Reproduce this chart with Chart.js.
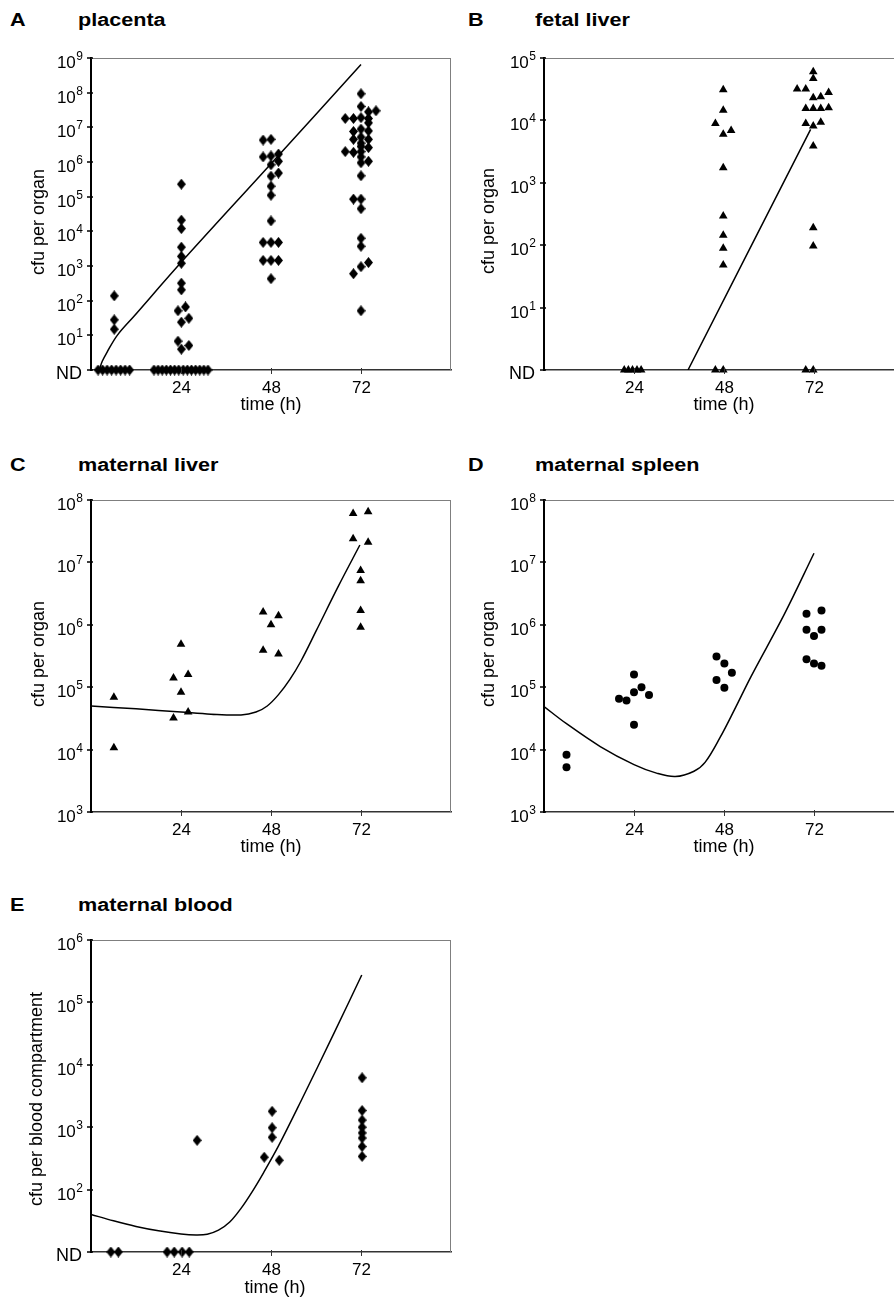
<!DOCTYPE html>
<html>
<head>
<meta charset="utf-8">
<script src="https://cdn.jsdelivr.net/npm/chart.js@4.4.0/dist/chart.umd.min.js"></script>
<style>
  html, body { margin: 0; padding: 0; background: #fff; overflow: hidden; }
  body { width: 894px; height: 1299px; position: relative; font-family: "Liberation Sans", Arial, sans-serif; color: #000; }
  canvas { position: absolute; }
  .lbl { position: absolute; white-space: nowrap; line-height: 1; }
  .panel { font-weight: bold; font-size: 18px; transform-origin: 0 50%; transform: scaleX(1.2); }
  .ytitle { font-size: 18px; transform: translate(-50%, -50%) rotate(-90deg); }
  .xtitle { font-size: 18px; transform: translate(-50%, -50%); }
</style>
</head>
<body>
<div class="lbl panel" style="left:10px;top:11px">A</div>
<div class="lbl panel" style="left:78px;top:11px">placenta</div>
<div class="lbl panel" style="left:468px;top:11px">B</div>
<div class="lbl panel" style="left:535px;top:11px">fetal liver</div>
<div class="lbl panel" style="left:10px;top:456px">C</div>
<div class="lbl panel" style="left:78px;top:456px">maternal liver</div>
<div class="lbl panel" style="left:468px;top:456px">D</div>
<div class="lbl panel" style="left:535px;top:456px">maternal spleen</div>
<div class="lbl panel" style="left:10px;top:896px">E</div>
<div class="lbl panel" style="left:78px;top:896px">maternal blood</div>

<canvas id="chartA" width="461" height="382" style="left:0px;top:48px"></canvas>
<canvas id="chartB" width="461" height="382" style="left:453px;top:48px"></canvas>
<canvas id="chartC" width="461" height="382" style="left:0px;top:490px"></canvas>
<canvas id="chartD" width="461" height="382" style="left:453px;top:490px"></canvas>
<canvas id="chartE" width="461" height="382" style="left:0px;top:930px"></canvas>

<div class="lbl ytitle" style="left:38px;top:222px">cfu per organ</div>
<div class="lbl ytitle" style="left:488px;top:221px">cfu per organ</div>
<div class="lbl ytitle" style="left:38px;top:654px">cfu per organ</div>
<div class="lbl ytitle" style="left:488px;top:654px">cfu per organ</div>
<div class="lbl ytitle" style="left:36px;top:1099px">cfu per blood compartment</div>
<div class="lbl xtitle" style="left:271px;top:404px">time (h)</div>
<div class="lbl xtitle" style="left:724px;top:404px">time (h)</div>
<div class="lbl xtitle" style="left:271px;top:846px">time (h)</div>
<div class="lbl xtitle" style="left:724px;top:846px">time (h)</div>
<div class="lbl xtitle" style="left:275px;top:1287px">time (h)</div>

<script>
// ---- data (hours, cfu) ----
const timeTicks = [24, 48, 72];

// A placenta
const placentaTicks = [1, 1e1, 1e2, 1e3, 1e4, 1e5, 1e6, 1e7, 1e8, 1e9];
const placentaNDhours = [1.9, 3.1, 4.3, 5.5, 6.7, 7.9, 9.1, 10.3,
  16.8, 17.9, 19.0, 20.1, 21.2, 22.3, 23.4, 24.6, 25.7, 26.8, 27.9, 29.0, 30.1, 31.2];
const placentaPts = [
  [6.2, 138], [6.2, 28], [6.2, 15],
  [24.1, 2.3e5], [24.1, 2.1e4], [24.1, 1.2e4], [24.1, 3.5e3], [24.1, 1.9e3], [24.1, 1.2e3],
  [24.1, 320], [24.1, 205], [23.2, 51], [25.2, 66], [24.1, 24], [26.1, 31], [23.2, 6.8], [24.1, 4], [26.1, 5.1],
  [45.9, 4.3e6], [48, 4.5e6], [45.9, 1.4e6], [48, 1.5e6], [50, 1.7e6], [48, 8.3e5], [50, 1.05e6],
  [48, 3.9e5], [50, 4.8e5], [48, 2.0e5], [48, 1.1e5], [48, 2.0e4], [45.9, 4.8e3], [48, 4.8e3], [50, 4.8e3],
  [45.9, 1.45e3], [48, 1.45e3], [50, 1.45e3], [48, 430],
  [72, 9.3e7], [72, 4.0e7], [74, 2.8e7], [76, 3.0e7], [67.8, 1.8e7], [70, 1.8e7], [72, 1.9e7], [74, 1.8e7],
  [74, 1.35e7], [70, 7.6e6], [72, 8.9e6], [74, 7.9e6], [70, 4.5e6], [72, 5.2e6], [74, 4.5e6], [72, 3.5e6],
  [74, 2.6e6], [72, 2.8e6], [67.8, 2.0e6], [70, 1.9e6], [72, 2.0e6], [72, 1.4e6], [74, 1.05e6], [72, 9.5e5],
  [72, 4.0e5], [70, 8.5e4], [72, 8.5e4], [72, 4.5e4], [72, 6.3e3], [72, 3.7e3], [74, 1.26e3], [72, 955],
  [70, 600], [72, 51]
];
const placentaFit = [[2.2, 1], [3, 1.78], [4.3, 3.3], [7, 10], [11.4, 35], [24, 1.26e3], [48, 8.9e5], [72, 6.5e8]];

// B fetal liver
const fetalTicks = [1, 1e1, 1e2, 1e3, 1e4, 1e5];
const fetalNDhours = [21.4, 22.5, 23.6, 24.8, 25.9, 45.7, 47.8, 69.8, 71.8];
const fetalPts = [
  [47.8, 3.1e4], [47.8, 1.45e4], [45.7, 8.9e3], [49.9, 6.9e3], [47.8, 6.0e3], [47.8, 1.75e3],
  [47.8, 295], [47.8, 145], [47.8, 89], [47.8, 48],
  [71.8, 6.0e4], [71.8, 4.7e4], [67.5, 3.2e4], [69.8, 3.2e4], [75.9, 2.8e4], [71.8, 2.3e4], [73.8, 2.4e4],
  [69.8, 1.55e4], [71.8, 1.55e4], [73.8, 1.55e4], [75.9, 1.6e4], [69.8, 8.9e3], [71.8, 8.1e3], [73.8, 9.3e3],
  [71.8, 3.9e3], [71.8, 190], [71.8, 97]
];
const fetalFit = [[38.4, 1], [71.1, 7.2e3]];

// C maternal liver
const liverTicks = [1e3, 1e4, 1e5, 1e6, 1e7, 1e8];
const liverPts = [
  [6.1, 6.9e4], [6.1, 1.07e4],
  [24, 4.9e5], [22, 1.4e5], [25.9, 1.6e5], [24, 8.3e4], [22, 3.2e4], [25.9, 4.0e4],
  [45.9, 1.6e6], [50, 1.4e6], [48, 1.0e6], [45.9, 3.9e5], [50, 3.4e5],
  [69.9, 6.1e7], [73.9, 6.5e7], [69.9, 2.4e7], [73.9, 2.1e7], [71.9, 7.4e6], [71.9, 5.1e6], [71.9, 1.7e6], [71.9, 9.1e5]
];
const liverFit = [[0, 5.0e4], [12, 4.5e4], [24, 4.0e4], [32, 3.7e4], [40, 3.6e4], [44, 4.0e4], [47, 5.0e4],
  [50, 7.6e4], [53, 1.32e5], [56, 2.63e5], [60, 7.9e5], [66, 4.2e6], [71.7, 1.9e7]];

// D maternal spleen
const spleenTicks = [1e3, 1e4, 1e5, 1e6, 1e7, 1e8];
const spleenPts = [
  [6, 8.3e3], [6, 5.2e3],
  [20, 6.5e4], [22, 6.1e4], [24, 1.6e5], [24, 8.3e4], [26, 1.0e5], [28, 7.5e4], [24, 2.5e4],
  [46, 3.1e5], [48.1, 2.4e5], [50.1, 1.7e5], [46, 1.3e5], [48.1, 9.8e4],
  [70, 1.5e6], [74, 1.7e6], [70, 8.3e5], [74, 8.3e5], [72, 6.6e5], [70, 2.8e5], [72, 2.4e5], [74, 2.2e5]
];
const spleenFit = [[0, 4.9e4], [6, 2.6e4], [15, 1.12e4], [24, 5.75e3], [30, 4.2e3], [35, 3.7e3],
  [40, 4.5e3], [43, 6.3e3], [47, 1.58e4], [50.8, 4.37e4], [55.2, 1.48e5], [64.1, 1.48e6], [72, 1.4e7]];

// E maternal blood
const bloodTicks = [10, 1e2, 1e3, 1e4, 1e5, 1e6];
const bloodNDhours = [5.3, 7.3, 20.3, 22.2, 24.3, 26.2];
const bloodPts = [
  [28.3, 615], [48.3, 1.8e3], [48.3, 980], [48.3, 690], [46.2, 330], [50.2, 295],
  [72.3, 6.2e3], [72.3, 1.85e3], [72.3, 1.3e3], [72.3, 1.0e3], [72.3, 810], [72.3, 670], [72.3, 490], [72.3, 340]
];
const bloodFit = [[0, 40], [6, 31.6], [12, 25.7], [18, 21.9], [24, 19.5], [28, 18.8], [31, 19.3], [34, 22.4],
  [37, 30.2], [40, 50], [43, 93], [46, 186], [50, 501], [56, 2.63e3], [64.9, 3.3e4], [72.2, 2.75e5]];

// ---- layout ----
const PAD_L = 91, PAD_T = 10, PAD_R = 10, PAD_B = 60;
const FONT = '"Liberation Sans", Arial, sans-serif';

function diamondImg() {
  const c = document.createElement('canvas');
  c.width = 9; c.height = 11;
  const g = c.getContext('2d');
  g.fillStyle = '#000';
  g.beginPath();
  g.moveTo(4.5, 0); g.lineTo(9, 5.5); g.lineTo(4.5, 11); g.lineTo(0, 5.5);
  g.closePath(); g.fill();
  return c;
}
const diamond = diamondImg();

const toXY = arr => arr.map(p => ({ x: p[0], y: p[1] }));

function axisDeco(yTicks, nd) {
  return {
    id: 'axisDeco',
    afterDraw(chart) {
      const { ctx, chartArea: a, scales: { x, y } } = chart;
      ctx.save();
      // light frame on top and right
      ctx.strokeStyle = '#7f7f7f';
      ctx.lineWidth = 1;
      ctx.beginPath();
      ctx.moveTo(a.left, a.top + 0.5); ctx.lineTo(a.right, a.top + 0.5);
      ctx.moveTo(a.right - 0.5, a.top); ctx.lineTo(a.right - 0.5, a.bottom);
      ctx.stroke();

      // y ticks and labels
      ctx.strokeStyle = '#000';
      ctx.fillStyle = '#000';
      ctx.lineWidth = 1.5;
      ctx.textBaseline = 'alphabetic';
      yTicks.forEach(v => {
        const py = Math.round(y.getPixelForValue(v));
        ctx.beginPath(); ctx.moveTo(a.left - 4, py); ctx.lineTo(a.left + 2, py); ctx.stroke();
        const rx = a.left - 8;
        if (v === nd) {
          ctx.font = '18px ' + FONT;
          ctx.textAlign = 'right';
          ctx.fillText('ND', rx - 1, py + 8.5);
        } else {
          const e = String(Math.round(Math.log10(v)));
          ctx.font = '12px ' + FONT;
          const ew = ctx.measureText(e).width;
          ctx.textAlign = 'left';
          ctx.fillText(e, rx - ew, py + 1.5);
          ctx.font = '17px ' + FONT;
          ctx.textAlign = 'right';
          ctx.fillText('10', rx - ew - 0.5, py + 10);
        }
      });

      // x ticks and labels
      ctx.strokeStyle = '#333';
      ctx.lineWidth = 1;
      ctx.font = '17px ' + FONT;
      ctx.textAlign = 'center';
      timeTicks.forEach(t => {
        const px = Math.round(x.getPixelForValue(t)) + 0.5;
        ctx.beginPath(); ctx.moveTo(px, a.bottom - 2); ctx.lineTo(px, a.bottom + 4); ctx.stroke();
        ctx.fillText(String(t), px, a.bottom + 22.5);
      });
      ctx.restore();
    }
  };
}

function makePanel(id, yTicks, nd, pts, fit, marker, radius) {
  new Chart(document.getElementById(id), {
    type: 'scatter',
    data: {
      datasets: [
        {
          data: toXY(fit), showLine: true, borderColor: '#000', borderWidth: 1.5,
          pointRadius: 0, tension: 0.35
        },
        {
          data: toXY(pts), pointStyle: marker, pointRadius: radius,
          backgroundColor: '#000', borderColor: '#000', borderWidth: 0, clip: false
        }
      ]
    },
    options: {
      responsive: false,
      animation: false,
      events: [],
      layout: { padding: { top: PAD_T, right: PAD_R, left: 0, bottom: 0 } },
      plugins: { legend: { display: false }, tooltip: { enabled: false } },
      scales: {
        x: {
          type: 'linear', min: 0, max: 96,
          ticks: { display: false }, grid: { display: false },
          border: { color: '#333', width: 1.5 },
          afterFit(s) { s.height = PAD_B; }
        },
        y: {
          type: 'logarithmic', min: yTicks[0], max: yTicks[yTicks.length - 1],
          ticks: { display: false }, grid: { display: false },
          border: { color: '#000', width: 2 },
          afterFit(s) { s.width = PAD_L; }
        }
      }
    },
    plugins: [axisDeco(yTicks, nd)]
  });
}

const withND = (hours, nd, pts) => hours.map(h => [h, nd]).concat(pts);

makePanel('chartA', placentaTicks, 1, withND(placentaNDhours, 1, placentaPts), placentaFit, diamond, 5);
makePanel('chartB', fetalTicks, 1, withND(fetalNDhours, 1, fetalPts), fetalFit, 'triangle', 5);
makePanel('chartC', liverTicks, null, liverPts, liverFit, 'triangle', 5);
makePanel('chartD', spleenTicks, null, spleenPts, spleenFit, 'circle', 4);
makePanel('chartE', bloodTicks, 10, withND(bloodNDhours, 10, bloodPts), bloodFit, diamond, 5);
</script>
</body>
</html>
